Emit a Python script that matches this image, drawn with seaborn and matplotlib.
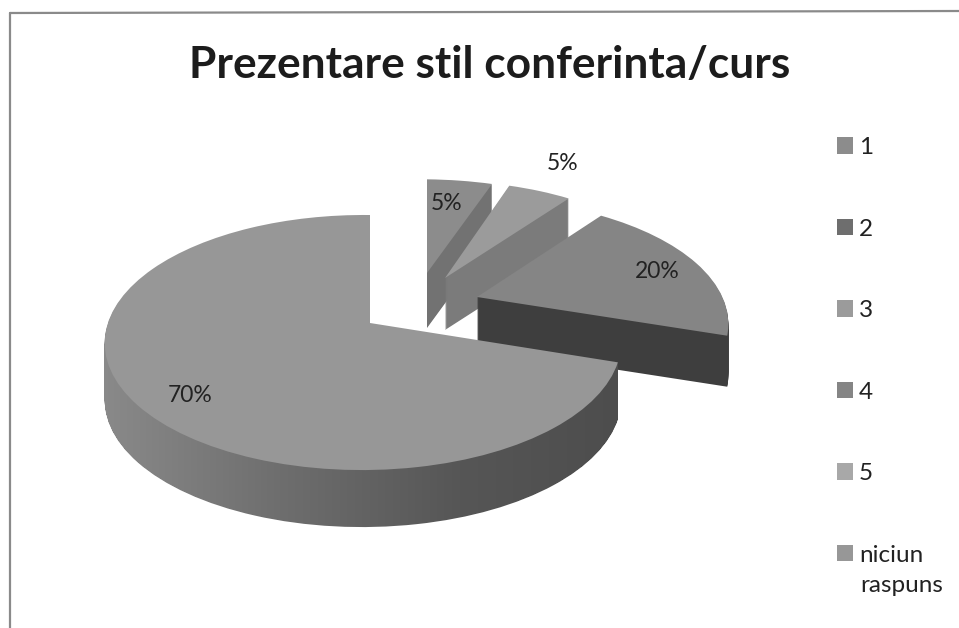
import numpy as np
import matplotlib
matplotlib.use("Agg")
import matplotlib.pyplot as plt
from matplotlib.patches import Wedge, Patch
from matplotlib.path import Path
from matplotlib.transforms import Transform
from matplotlib.colors import LinearSegmentedColormap
import seaborn as sns

# ---- data ----
categories = ["1", "2", "3", "4", "5", "niciun", "raspuns"]
values = [5, 0, 5, 20, 0, 70]
title = "Prezentare stil conferinta/curs"

top_colors = ["#8c8c8c", "#6e6e6e", "#9b9b9b", "#858585", "#a8a8a8", "#979797"]
side_colors = ["#727272", "#555555", "#7b7b7b", "#3e3e3e", "#808080", "#6a6a6a"]

sns.set_theme(style="white")
plt.rcParams["font.family"] = ["Lato", "DejaVu Sans"]


class Persp(Transform):
    """Projective view of the unit pie, placed at a pixel position."""
    input_dims = output_dims = 2
    is_separable = False
    has_inverse = False

    def __init__(self, cx, cy, rx, ry, p=0.153, q=0.027):
        super().__init__()
        self.cx, self.cy, self.rx, self.ry, self.p, self.q = cx, cy, rx, ry, p, q

    def transform_non_affine(self, xy):
        xy = np.asarray(xy, dtype=float)
        d = 1 + self.p * xy[:, 1] + self.q * xy[:, 0]
        return np.column_stack((self.cx + self.rx * xy[:, 0] / d,
                                self.cy - self.ry * xy[:, 1] / d))


fig = plt.figure(figsize=(9.59, 6.28), dpi=100, facecolor="white")
ax = fig.add_axes([0, 0, 1, 1])

wedges, _ = ax.pie(values, startangle=90, counterclock=False, radius=1,
                   colors=sns.color_palette(top_colors))

# pixel placement of every non-empty slice: apex x, apex y, rx, ry, depth, perspective
placement = {
    0: (427, 273, 243, 108, 55, 0.153),
    2: (445, 278, 240, 112, 52, 0.153),
    3: (477, 297, 252, 120, 51, 0.22),
    5: (370, 323, 255, 124.5, 57, 0.153),
}

ax.set_xlim(0, 959)
ax.set_ylim(628, 0)
ax.set_aspect("auto")

for i, w in enumerate(wedges):
    if i not in placement:
        w.set_visible(False)
        continue
    cx, cy, rx, ry, depth, persp = placement[i]
    layers = []
    for d in range(depth, 0, -1):
        layer = Wedge((0, 0), 1, w.theta1, w.theta2, facecolor=side_colors[i],
                      edgecolor="none", zorder=10 + i)
        layer.set_transform(Persp(cx, cy + d, rx, ry, persp) + ax.transData)
        if i == 5:
            p = layer.get_path().transformed(layer.get_patch_transform())
            layers.append(Persp(cx, cy + d, rx, ry, persp).transform_path(p))
        else:
            ax.add_patch(layer)
    if i == 5:
        cmap = LinearSegmentedColormap.from_list(
            "side", ["#8a8a8a", "#6e6e6e", "#565656", "#4c4c4c"])
        im = ax.imshow(np.linspace(0, 1, 256)[None, :], cmap=cmap, aspect="auto",
                       extent=(100, 640, 540, 300), zorder=10 + i)
        im.set_clip_path(Path.make_compound_path(*layers), transform=ax.transData)
    w.set_transform(Persp(cx, cy, rx, ry, persp) + ax.transData)
    w.set_zorder(10.5 + i)
    w.set_edgecolor("none")

ax.set_xlim(0, 959)
ax.set_ylim(628, 0)
ax.set_aspect("auto")
ax.axis("off")

# percent labels
label_pos = {0: (447, 203), 2: (563, 164), 3: (657, 272), 5: (190, 396)}
for i, (x, y) in label_pos.items():
    ax.text(x, y, f"{values[i]}%", ha="center", va="center", fontsize=16.5,
            color="#222222", zorder=30)

# frame: only the left and top edges are in the scan
ax.plot([10, 10], [628, 13], color="#8a8a8a", lw=1.6, zorder=1)
ax.plot([10, 959], [13, 11], color="#8a8a8a", lw=1.6, zorder=1)

ax.text(490, 65, title, ha="center", va="center", fontsize=31.85,
        fontweight="bold", color="#1c1c1c", zorder=30)

handles = [Patch(facecolor=c, edgecolor="none") for c in top_colors]
leg = ax.legend(handles, categories[:6], loc="upper left",
                bbox_to_anchor=(837 / 959, 1 - 137 / 628), frameon=False,
                fontsize=17.5, labelspacing=2.49, handlelength=0.66,
                handleheight=0.66, handletextpad=0.25, labelcolor="#222222",
                borderpad=0, borderaxespad=0)
leg.set_zorder(30)
ax.text(860, 586, categories[6], ha="left", va="center", fontsize=17.5,
        color="#222222", zorder=30)

fig.savefig("out.png", dpi=100, facecolor="white")
